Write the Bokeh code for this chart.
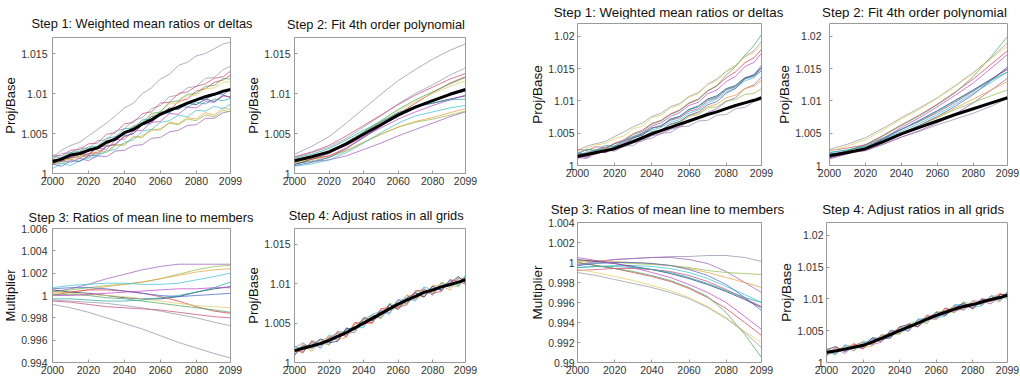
from bokeh.plotting import figure
from bokeh.layouts import row, column
from bokeh.models import FixedTicker, CustomJSTickFormatter, Range1d, ColumnDataSource
from bokeh.core.properties import value
from bokeh.embed import file_html
from bokeh.resources import INLINE

FONT = "Liberation Sans"

# ---------------- data ----------------
years_annual = [2000, 2005, 2010, 2015, 2020, 2025, 2030, 2035, 2040, 2045, 2050,
                2055, 2060, 2065, 2070, 2075, 2080, 2085, 2090, 2095, 2099]
years_fit = [2000, 2010, 2020, 2030, 2040, 2050, 2060, 2070, 2080, 2090, 2099]
x_ticks = [2000, 2020, 2040, 2060, 2080, 2099]
ticks_ratio_left = [1.0, 1.005, 1.01, 1.015]
ticks_mult_left = [0.994, 0.996, 0.998, 1.0, 1.002, 1.004, 1.006]
ticks_ratio_right = [1.0, 1.005, 1.01, 1.015, 1.02]
ticks_mult_right = [0.99, 0.992, 0.994, 0.996, 0.998, 1.0, 1.002, 1.004]

titles = ["Step 1: Weighted mean ratios or deltas", "Step 2: Fit 4th order polynomial",
          "Step 3: Ratios of mean line to members", "Step 4: Adjust ratios in all grids"]

member_colors = ["#9a90b0", "#a060b8", "#90c050", "#e8a040", "#40c0d8", "#203a70", "#d84050",
                 "#9898a8", "#50a860", "#c85078", "#e0d060", "#4868c8", "#c848c8", "#30a8a8"]

# Left case, step 1: weighted mean ratios (members + mean)
left_step1_mean = [1.0015, 1.0018, 1.0023, 1.0025, 1.0029, 1.0032, 1.0039, 1.0043, 1.0051, 1.0055, 1.0062,
                   1.0067, 1.0074, 1.0079, 1.0083, 1.0088, 1.0092, 1.0096, 1.0099, 1.0103, 1.0105]
left_step1_members = [
    [1.0020, 1.0029, 1.0035, 1.0039, 1.0047, 1.0055, 1.0063, 1.0072, 1.0082, 1.0088, 1.0100, 1.0107, 1.0118, 1.0124, 1.0135, 1.0139, 1.0147, 1.0150, 1.0156, 1.0162, 1.0164],
    [1.0011, 1.0016, 1.0014, 1.0019, 1.0016, 1.0022, 1.0021, 1.0028, 1.0029, 1.0035, 1.0036, 1.0044, 1.0045, 1.0052, 1.0054, 1.0060, 1.0061, 1.0069, 1.0069, 1.0076, 1.0078],
    [1.0014, 1.0012, 1.0018, 1.0015, 1.0022, 1.0025, 1.0026, 1.0035, 1.0037, 1.0045, 1.0047, 1.0054, 1.0056, 1.0063, 1.0061, 1.0068, 1.0066, 1.0073, 1.0071, 1.0079, 1.0077],
    [1.0012, 1.0019, 1.0017, 1.0023, 1.0020, 1.0029, 1.0027, 1.0036, 1.0035, 1.0046, 1.0045, 1.0055, 1.0054, 1.0064, 1.0062, 1.0070, 1.0068, 1.0076, 1.0073, 1.0082, 1.0080],
    [1.0006, 1.0013, 1.0010, 1.0016, 1.0019, 1.0022, 1.0028, 1.0030, 1.0039, 1.0042, 1.0053, 1.0055, 1.0064, 1.0066, 1.0073, 1.0071, 1.0079, 1.0078, 1.0084, 1.0081, 1.0087],
    [1.0013, 1.0015, 1.0020, 1.0024, 1.0023, 1.0033, 1.0035, 1.0046, 1.0049, 1.0059, 1.0062, 1.0071, 1.0074, 1.0082, 1.0080, 1.0088, 1.0086, 1.0093, 1.0090, 1.0098, 1.0095],
    [1.0018, 1.0015, 1.0021, 1.0019, 1.0025, 1.0026, 1.0034, 1.0037, 1.0046, 1.0050, 1.0061, 1.0065, 1.0076, 1.0079, 1.0090, 1.0093, 1.0103, 1.0106, 1.0114, 1.0117, 1.0123],
    [1.0018, 1.0025, 1.0026, 1.0032, 1.0031, 1.0041, 1.0042, 1.0053, 1.0056, 1.0066, 1.0070, 1.0081, 1.0085, 1.0096, 1.0098, 1.0107, 1.0109, 1.0119, 1.0120, 1.0130, 1.0134],
    [1.0017, 1.0016, 1.0023, 1.0021, 1.0029, 1.0030, 1.0041, 1.0043, 1.0050, 1.0058, 1.0064, 1.0075, 1.0077, 1.0089, 1.0091, 1.0099, 1.0100, 1.0109, 1.0110, 1.0119, 1.0118],
    [1.0023, 1.0022, 1.0029, 1.0030, 1.0037, 1.0038, 1.0049, 1.0051, 1.0062, 1.0064, 1.0075, 1.0077, 1.0088, 1.0089, 1.0100, 1.0102, 1.0109, 1.0112, 1.0119, 1.0121, 1.0128],
    [1.0010, 1.0017, 1.0018, 1.0023, 1.0024, 1.0034, 1.0035, 1.0045, 1.0048, 1.0059, 1.0062, 1.0073, 1.0076, 1.0087, 1.0088, 1.0097, 1.0098, 1.0106, 1.0107, 1.0114, 1.0115],
    [1.0012, 1.0009, 1.0016, 1.0015, 1.0022, 1.0023, 1.0034, 1.0036, 1.0047, 1.0050, 1.0061, 1.0063, 1.0075, 1.0076, 1.0085, 1.0086, 1.0093, 1.0092, 1.0100, 1.0099, 1.0105],
    [1.0014, 1.0020, 1.0019, 1.0025, 1.0024, 1.0032, 1.0030, 1.0042, 1.0043, 1.0053, 1.0054, 1.0064, 1.0065, 1.0075, 1.0074, 1.0083, 1.0082, 1.0090, 1.0089, 1.0097, 1.0096],
    [1.0021, 1.0020, 1.0026, 1.0028, 1.0033, 1.0034, 1.0044, 1.0046, 1.0056, 1.0057, 1.0067, 1.0068, 1.0077, 1.0076, 1.0084, 1.0083, 1.0089, 1.0087, 1.0093, 1.0091, 1.0094],
]

# Left case, step 2: 4th order polynomial fits
left_step2_mean = [1.0016, 1.0021, 1.0027, 1.0037, 1.0049, 1.0061, 1.0073, 1.0083, 1.0091, 1.0099, 1.0105]
left_step2_members = [
    [1.0024, 1.0034, 1.0046, 1.0063, 1.0081, 1.0099, 1.0116, 1.0130, 1.0143, 1.0154, 1.0162],
    [1.0013, 1.0015, 1.0017, 1.0022, 1.0030, 1.0038, 1.0047, 1.0055, 1.0063, 1.0071, 1.0077],
    [1.0012, 1.0016, 1.0020, 1.0028, 1.0039, 1.0049, 1.0058, 1.0064, 1.0068, 1.0073, 1.0078],
    [1.0014, 1.0018, 1.0022, 1.0029, 1.0039, 1.0049, 1.0058, 1.0065, 1.0070, 1.0076, 1.0081],
    [1.0009, 1.0012, 1.0017, 1.0026, 1.0038, 1.0051, 1.0063, 1.0072, 1.0077, 1.0082, 1.0085],
    [1.0011, 1.0018, 1.0025, 1.0037, 1.0051, 1.0064, 1.0076, 1.0084, 1.0088, 1.0093, 1.0097],
    [1.0016, 1.0018, 1.0022, 1.0032, 1.0045, 1.0059, 1.0074, 1.0088, 1.0101, 1.0113, 1.0121],
    [1.0020, 1.0026, 1.0033, 1.0044, 1.0058, 1.0072, 1.0087, 1.0100, 1.0111, 1.0123, 1.0132],
    [1.0015, 1.0020, 1.0027, 1.0039, 1.0052, 1.0066, 1.0080, 1.0092, 1.0102, 1.0112, 1.0120],
    [1.0021, 1.0027, 1.0035, 1.0047, 1.0060, 1.0073, 1.0086, 1.0098, 1.0108, 1.0118, 1.0125],
    [1.0013, 1.0019, 1.0026, 1.0037, 1.0050, 1.0064, 1.0078, 1.0090, 1.0100, 1.0109, 1.0116],
    [1.0010, 1.0014, 1.0020, 1.0031, 1.0045, 1.0059, 1.0073, 1.0084, 1.0091, 1.0098, 1.0103],
    [1.0016, 1.0021, 1.0026, 1.0035, 1.0046, 1.0057, 1.0068, 1.0077, 1.0085, 1.0092, 1.0098],
    [1.0019, 1.0024, 1.0031, 1.0042, 1.0054, 1.0065, 1.0075, 1.0083, 1.0088, 1.0092, 1.0093],
]

# Left case, step 3: multipliers (mean line / member fit)
left_step3_members = [
    [0.9992, 0.9989, 0.9985, 0.9980, 0.9975, 0.9970, 0.9964, 0.9958, 0.9953, 0.9948, 0.9944],
    [1.0003, 1.0006, 1.0010, 1.0015, 1.0019, 1.0023, 1.0026, 1.0028, 1.0028, 1.0028, 1.0028],
    [1.0004, 1.0005, 1.0007, 1.0009, 1.0010, 1.0012, 1.0015, 1.0019, 1.0023, 1.0026, 1.0027],
    [1.0002, 1.0003, 1.0005, 1.0008, 1.0010, 1.0012, 1.0015, 1.0018, 1.0021, 1.0023, 1.0024],
    [1.0007, 1.0009, 1.0010, 1.0011, 1.0011, 1.0010, 1.0010, 1.0011, 1.0014, 1.0017, 1.0020],
    [1.0005, 1.0003, 1.0002, 1.0000, 0.9998, 0.9997, 0.9997, 0.9999, 1.0003, 1.0006, 1.0008],
    [1.0000, 1.0003, 1.0005, 1.0005, 1.0004, 1.0002, 0.9999, 0.9995, 0.9990, 0.9986, 0.9984],
    [0.9996, 0.9995, 0.9994, 0.9993, 0.9991, 0.9989, 0.9986, 0.9983, 0.9980, 0.9976, 0.9973],
    [1.0001, 1.0001, 1.0000, 0.9998, 0.9997, 0.9995, 0.9993, 0.9991, 0.9989, 0.9987, 0.9985],
    [0.9995, 0.9994, 0.9992, 0.9990, 0.9989, 0.9988, 0.9987, 0.9985, 0.9983, 0.9981, 0.9980],
    [1.0003, 1.0002, 1.0001, 1.0000, 0.9999, 0.9997, 0.9995, 0.9993, 0.9991, 0.9990, 0.9989],
    [1.0006, 1.0007, 1.0007, 1.0006, 1.0004, 1.0002, 1.0000, 0.9999, 1.0000, 1.0001, 1.0002],
    [1.0000, 1.0000, 1.0001, 1.0002, 1.0003, 1.0004, 1.0005, 1.0006, 1.0006, 1.0007, 1.0007],
    [0.9997, 0.9997, 0.9996, 0.9995, 0.9995, 0.9996, 0.9998, 1.0000, 1.0003, 1.0007, 1.0012],
]

# Left case, step 4: adjusted ratios
left_step4_mean = [1.0015, 1.0018, 1.0021, 1.0024, 1.0028, 1.0033, 1.0038, 1.0044, 1.0050, 1.0056, 1.0062,
                   1.0068, 1.0074, 1.0079, 1.0084, 1.0089, 1.0092, 1.0096, 1.0099, 1.0102, 1.0105]
left_step4_members = [
    [1.0010, 1.0024, 1.0018, 1.0029, 1.0022, 1.0037, 1.0033, 1.0050, 1.0046, 1.0061, 1.0056, 1.0073, 1.0071, 1.0085, 1.0079, 1.0093, 1.0086, 1.0101, 1.0095, 1.0108, 1.0102],
    [1.0021, 1.0014, 1.0026, 1.0018, 1.0032, 1.0028, 1.0044, 1.0041, 1.0055, 1.0050, 1.0066, 1.0063, 1.0080, 1.0075, 1.0089, 1.0083, 1.0095, 1.0091, 1.0105, 1.0098, 1.0110],
    [1.0017, 1.0012, 1.0028, 1.0024, 1.0023, 1.0039, 1.0039, 1.0038, 1.0054, 1.0058, 1.0057, 1.0075, 1.0072, 1.0075, 1.0090, 1.0089, 1.0087, 1.0102, 1.0098, 1.0096, 1.0109],
    [1.0012, 1.0022, 1.0014, 1.0027, 1.0033, 1.0029, 1.0032, 1.0049, 1.0052, 1.0049, 1.0068, 1.0067, 1.0069, 1.0086, 1.0081, 1.0085, 1.0098, 1.0097, 1.0092, 1.0106, 1.0107],
    [1.0020, 1.0018, 1.0024, 1.0019, 1.0035, 1.0031, 1.0042, 1.0045, 1.0044, 1.0061, 1.0065, 1.0061, 1.0079, 1.0081, 1.0078, 1.0096, 1.0092, 1.0093, 1.0104, 1.0097, 1.0111],
    [1.0009, 1.0021, 1.0021, 1.0030, 1.0025, 1.0027, 1.0043, 1.0042, 1.0057, 1.0053, 1.0060, 1.0074, 1.0067, 1.0082, 1.0088, 1.0083, 1.0097, 1.0092, 1.0101, 1.0109, 1.0100],
    [1.0015, 1.0013, 1.0027, 1.0022, 1.0031, 1.0038, 1.0033, 1.0051, 1.0049, 1.0051, 1.0068, 1.0070, 1.0070, 1.0073, 1.0091, 1.0092, 1.0088, 1.0090, 1.0105, 1.0103, 1.0099],
    [1.0019, 1.0025, 1.0017, 1.0026, 1.0025, 1.0040, 1.0036, 1.0039, 1.0056, 1.0060, 1.0056, 1.0068, 1.0079, 1.0074, 1.0085, 1.0095, 1.0085, 1.0100, 1.0097, 1.0107, 1.0106],
]

# Right case, step 1
right_step1_mean = [1.0014, 1.0017, 1.0020, 1.0023, 1.0026, 1.0032, 1.0037, 1.0043, 1.0049, 1.0054, 1.0059,
                    1.0064, 1.0069, 1.0074, 1.0079, 1.0083, 1.0088, 1.0093, 1.0097, 1.0101, 1.0105]
right_step1_members = [
    [1.0016, 1.0021, 1.0019, 1.0024, 1.0022, 1.0030, 1.0031, 1.0040, 1.0042, 1.0050, 1.0051, 1.0060, 1.0061, 1.0069, 1.0070, 1.0078, 1.0079, 1.0088, 1.0090, 1.0099, 1.0102],
    [1.0019, 1.0016, 1.0022, 1.0020, 1.0026, 1.0029, 1.0035, 1.0038, 1.0046, 1.0049, 1.0056, 1.0060, 1.0068, 1.0074, 1.0082, 1.0088, 1.0099, 1.0105, 1.0119, 1.0125, 1.0137],
    [1.0011, 1.0018, 1.0017, 1.0024, 1.0029, 1.0030, 1.0040, 1.0044, 1.0053, 1.0054, 1.0064, 1.0066, 1.0076, 1.0079, 1.0089, 1.0091, 1.0100, 1.0102, 1.0110, 1.0112, 1.0119],
    [1.0016, 1.0014, 1.0020, 1.0021, 1.0028, 1.0030, 1.0039, 1.0043, 1.0052, 1.0055, 1.0064, 1.0068, 1.0077, 1.0081, 1.0091, 1.0095, 1.0105, 1.0109, 1.0119, 1.0123, 1.0132],
    [1.0018, 1.0025, 1.0023, 1.0028, 1.0030, 1.0037, 1.0042, 1.0049, 1.0055, 1.0059, 1.0067, 1.0071, 1.0081, 1.0086, 1.0097, 1.0103, 1.0114, 1.0120, 1.0131, 1.0136, 1.0148],
    [1.0014, 1.0013, 1.0021, 1.0020, 1.0030, 1.0032, 1.0043, 1.0047, 1.0058, 1.0061, 1.0072, 1.0076, 1.0087, 1.0092, 1.0103, 1.0108, 1.0119, 1.0124, 1.0136, 1.0140, 1.0152],
    [1.0017, 1.0018, 1.0025, 1.0026, 1.0034, 1.0040, 1.0049, 1.0055, 1.0065, 1.0070, 1.0080, 1.0086, 1.0097, 1.0103, 1.0116, 1.0123, 1.0136, 1.0145, 1.0159, 1.0167, 1.0180],
    [1.0023, 1.0030, 1.0034, 1.0037, 1.0045, 1.0052, 1.0060, 1.0066, 1.0076, 1.0081, 1.0091, 1.0096, 1.0107, 1.0113, 1.0126, 1.0134, 1.0146, 1.0155, 1.0169, 1.0178, 1.0192],
    [1.0013, 1.0020, 1.0024, 1.0025, 1.0034, 1.0038, 1.0048, 1.0053, 1.0064, 1.0069, 1.0079, 1.0085, 1.0096, 1.0102, 1.0115, 1.0124, 1.0140, 1.0153, 1.0171, 1.0186, 1.0203],
    [1.0025, 1.0023, 1.0029, 1.0028, 1.0034, 1.0038, 1.0045, 1.0049, 1.0058, 1.0061, 1.0070, 1.0074, 1.0084, 1.0088, 1.0100, 1.0105, 1.0117, 1.0122, 1.0135, 1.0139, 1.0151],
    [1.0020, 1.0027, 1.0032, 1.0034, 1.0042, 1.0046, 1.0057, 1.0061, 1.0074, 1.0078, 1.0089, 1.0094, 1.0106, 1.0111, 1.0125, 1.0132, 1.0145, 1.0154, 1.0168, 1.0175, 1.0187],
    [1.0020, 1.0017, 1.0022, 1.0023, 1.0028, 1.0032, 1.0039, 1.0044, 1.0052, 1.0055, 1.0064, 1.0068, 1.0078, 1.0083, 1.0094, 1.0099, 1.0112, 1.0119, 1.0134, 1.0141, 1.0155],
    [1.0012, 1.0011, 1.0019, 1.0021, 1.0029, 1.0035, 1.0044, 1.0051, 1.0061, 1.0066, 1.0076, 1.0082, 1.0093, 1.0098, 1.0111, 1.0117, 1.0130, 1.0138, 1.0153, 1.0160, 1.0174],
    [1.0018, 1.0025, 1.0023, 1.0031, 1.0030, 1.0038, 1.0044, 1.0050, 1.0058, 1.0062, 1.0071, 1.0076, 1.0086, 1.0091, 1.0102, 1.0106, 1.0118, 1.0122, 1.0134, 1.0138, 1.0147],
]

# Right case, step 2
right_step2_mean = [1.0015, 1.0020, 1.0026, 1.0037, 1.0049, 1.0059, 1.0069, 1.0079, 1.0088, 1.0097, 1.0105]
right_step2_members = [
    [1.0018, 1.0020, 1.0023, 1.0033, 1.0044, 1.0053, 1.0063, 1.0072, 1.0081, 1.0092, 1.0104],
    [1.0017, 1.0019, 1.0023, 1.0033, 1.0044, 1.0054, 1.0066, 1.0080, 1.0097, 1.0117, 1.0135],
    [1.0013, 1.0019, 1.0026, 1.0038, 1.0051, 1.0062, 1.0074, 1.0087, 1.0098, 1.0108, 1.0117],
    [1.0014, 1.0018, 1.0025, 1.0037, 1.0050, 1.0062, 1.0075, 1.0089, 1.0103, 1.0117, 1.0130],
    [1.0020, 1.0024, 1.0029, 1.0040, 1.0053, 1.0065, 1.0079, 1.0095, 1.0112, 1.0129, 1.0145],
    [1.0012, 1.0019, 1.0027, 1.0041, 1.0056, 1.0070, 1.0085, 1.0101, 1.0117, 1.0134, 1.0150],
    [1.0015, 1.0023, 1.0032, 1.0047, 1.0063, 1.0078, 1.0095, 1.0114, 1.0134, 1.0157, 1.0178],
    [1.0025, 1.0033, 1.0043, 1.0058, 1.0074, 1.0089, 1.0105, 1.0124, 1.0144, 1.0167, 1.0190],
    [1.0015, 1.0023, 1.0032, 1.0046, 1.0062, 1.0077, 1.0094, 1.0113, 1.0138, 1.0169, 1.0200],
    [1.0023, 1.0027, 1.0032, 1.0043, 1.0056, 1.0068, 1.0082, 1.0098, 1.0115, 1.0133, 1.0149],
    [1.0022, 1.0030, 1.0040, 1.0055, 1.0072, 1.0087, 1.0104, 1.0123, 1.0143, 1.0166, 1.0185],
    [1.0018, 1.0021, 1.0026, 1.0037, 1.0050, 1.0062, 1.0076, 1.0092, 1.0110, 1.0132, 1.0153],
    [1.0010, 1.0018, 1.0027, 1.0042, 1.0059, 1.0074, 1.0091, 1.0109, 1.0128, 1.0151, 1.0172],
    [1.0020, 1.0024, 1.0030, 1.0042, 1.0056, 1.0069, 1.0084, 1.0100, 1.0116, 1.0132, 1.0145],
]

# Right case, step 3
right_step3_members = [
    [0.9997, 1.0000, 1.0003, 1.0004, 1.0005, 1.0006, 1.0006, 1.0007, 1.0007, 1.0005, 1.0001],
    [0.9998, 1.0001, 1.0003, 1.0004, 1.0005, 1.0005, 1.0003, 0.9999, 0.9991, 0.9980, 0.9970],
    [1.0002, 1.0001, 1.0000, 0.9999, 0.9998, 0.9997, 0.9995, 0.9992, 0.9990, 0.9989, 0.9988],
    [1.0001, 1.0002, 1.0001, 1.0000, 0.9999, 0.9997, 0.9994, 0.9990, 0.9985, 0.9980, 0.9975],
    [0.9995, 0.9996, 0.9997, 0.9997, 0.9996, 0.9994, 0.9990, 0.9984, 0.9976, 0.9968, 0.9960],
    [1.0003, 1.0001, 0.9999, 0.9996, 0.9993, 0.9989, 0.9984, 0.9978, 0.9971, 0.9963, 0.9955],
    [1.0000, 0.9997, 0.9994, 0.9990, 0.9986, 0.9981, 0.9974, 0.9965, 0.9954, 0.9940, 0.9927],
    [0.9990, 0.9987, 0.9983, 0.9979, 0.9975, 0.9970, 0.9964, 0.9955, 0.9944, 0.9930, 0.9915],
    [1.0000, 0.9997, 0.9994, 0.9991, 0.9987, 0.9982, 0.9975, 0.9966, 0.9950, 0.9928, 0.9905],
    [0.9992, 0.9993, 0.9994, 0.9994, 0.9993, 0.9991, 0.9987, 0.9981, 0.9973, 0.9964, 0.9956],
    [0.9993, 0.9990, 0.9986, 0.9982, 0.9977, 0.9972, 0.9965, 0.9956, 0.9945, 0.9931, 0.9920],
    [0.9997, 0.9999, 1.0000, 1.0000, 0.9999, 0.9997, 0.9993, 0.9987, 0.9978, 0.9965, 0.9952],
    [1.0005, 1.0002, 0.9999, 0.9995, 0.9990, 0.9985, 0.9978, 0.9970, 0.9960, 0.9946, 0.9933],
    [0.9995, 0.9996, 0.9996, 0.9995, 0.9993, 0.9990, 0.9985, 0.9979, 0.9972, 0.9965, 0.9960],
]

# Right case, step 4
right_step4_mean = [1.0016, 1.0018, 1.0021, 1.0024, 1.0027, 1.0032, 1.0038, 1.0044, 1.0050, 1.0056, 1.0062,
                    1.0068, 1.0074, 1.0079, 1.0084, 1.0088, 1.0091, 1.0095, 1.0099, 1.0102, 1.0106]
right_step4_members = [
    [1.0018, 1.0012, 1.0028, 1.0024, 1.0022, 1.0038, 1.0039, 1.0038, 1.0054, 1.0058, 1.0057, 1.0075, 1.0072, 1.0075, 1.0090, 1.0088, 1.0086, 1.0101, 1.0098, 1.0096, 1.0110],
    [1.0013, 1.0022, 1.0014, 1.0027, 1.0032, 1.0028, 1.0032, 1.0049, 1.0052, 1.0049, 1.0068, 1.0067, 1.0069, 1.0086, 1.0081, 1.0084, 1.0097, 1.0096, 1.0092, 1.0106, 1.0108],
    [1.0021, 1.0018, 1.0024, 1.0019, 1.0034, 1.0030, 1.0042, 1.0045, 1.0044, 1.0061, 1.0065, 1.0061, 1.0079, 1.0081, 1.0078, 1.0095, 1.0091, 1.0092, 1.0104, 1.0097, 1.0112],
    [1.0010, 1.0021, 1.0021, 1.0030, 1.0024, 1.0026, 1.0043, 1.0042, 1.0057, 1.0053, 1.0060, 1.0074, 1.0067, 1.0082, 1.0088, 1.0082, 1.0096, 1.0091, 1.0101, 1.0109, 1.0101],
    [1.0016, 1.0013, 1.0027, 1.0022, 1.0030, 1.0037, 1.0033, 1.0051, 1.0049, 1.0051, 1.0068, 1.0070, 1.0070, 1.0073, 1.0091, 1.0091, 1.0087, 1.0089, 1.0105, 1.0103, 1.0100],
    [1.0020, 1.0025, 1.0017, 1.0026, 1.0024, 1.0039, 1.0036, 1.0039, 1.0056, 1.0060, 1.0056, 1.0068, 1.0079, 1.0074, 1.0085, 1.0094, 1.0084, 1.0099, 1.0097, 1.0107, 1.0107],
    [1.0011, 1.0024, 1.0018, 1.0029, 1.0021, 1.0036, 1.0033, 1.0050, 1.0046, 1.0061, 1.0056, 1.0073, 1.0071, 1.0085, 1.0079, 1.0092, 1.0085, 1.0100, 1.0095, 1.0108, 1.0103],
    [1.0022, 1.0014, 1.0026, 1.0018, 1.0031, 1.0027, 1.0044, 1.0041, 1.0055, 1.0050, 1.0066, 1.0063, 1.0080, 1.0075, 1.0089, 1.0082, 1.0094, 1.0090, 1.0105, 1.0098, 1.0111],
]

# ---------------- drawing ----------------
fmt = CustomJSTickFormatter(code="return String(parseFloat(tick.toFixed(4)));")


def panel(ylabel, yrange, yticks, years, members, mean, width, height,
          bl, br, bt, bb, label_size, ylab_standoff):
    p = figure(width=width, height=height, x_range=Range1d(2000, 2099),
               y_range=Range1d(*yrange), output_backend="svg", toolbar_location=None,
               min_border_left=bl, min_border_right=br, min_border_top=bt,
               min_border_bottom=bb)
    p.grid.visible = False
    p.outline_line_color = "#9a9a9a"
    p.outline_line_width = 1
    p.background_fill_color = "white"
    p.border_fill_color = "white"

    p.xaxis.ticker = FixedTicker(ticks=x_ticks)
    p.yaxis.ticker = FixedTicker(ticks=yticks)
    p.yaxis.formatter = fmt
    p.yaxis.axis_label = ylabel
    p.yaxis.axis_label_text_font = FONT
    p.yaxis.axis_label_text_font_size = label_size
    p.yaxis.axis_label_text_font_style = "normal"
    p.yaxis.axis_label_text_color = "#111111"
    p.yaxis.axis_label_standoff = 0
    for ax in (p.xaxis[0], p.yaxis[0]):
        ax.axis_line_color = None
        ax.major_tick_in = 3
        ax.major_tick_out = 0
        ax.minor_tick_line_color = None
        ax.major_tick_line_color = "#9a9a9a"
        ax.major_label_text_font = FONT
        ax.major_label_text_font_size = "10.5px"
        ax.major_label_text_color = "#333333"
    p.xaxis.major_label_standoff = 3
    p.yaxis.major_label_standoff = ylab_standoff

    src = ColumnDataSource(dict(xs=[years] * len(members), ys=members,
                                color=member_colors[:len(members)]))
    p.multi_line(xs="xs", ys="ys", line_color="color", line_width=1, line_alpha=0.75, source=src)
    if mean is not None:
        p.line(years, mean, line_color="black", line_width=3)
    return p


def title_strip(width, height, centers_x, centers_y, texts, size):
    """A blank strip (pixel-unit ranges) that carries the panel titles."""
    s = figure(width=width, height=height, x_range=Range1d(0, width), y_range=Range1d(height, 0),
               output_backend="svg", toolbar_location=None, x_axis_location=None,
               y_axis_location=None, min_border_left=0, min_border_right=0,
               min_border_top=0, min_border_bottom=0, outline_line_color=None)
    s.grid.visible = False
    s.background_fill_color = "white"
    s.border_fill_color = "white"
    s.text(x=centers_x, y=centers_y, text=texts, text_align="center", text_baseline="middle",
           text_font=value(FONT), text_font_size=value(size), text_color="#111111")
    return s


# left case ------------------------------------------------------------
LT1 = title_strip(527, 33, [141.5, 375.5], [23, 24], [titles[0], titles[1]], "12.8px")
L1 = panel("Proj/Base", (1.0, 1.017), ticks_ratio_left, years_annual, left_step1_members,
           left_step1_mean, 243, 165, 52, 13, 4, 25, "13px", 5)
L2 = panel("Proj/Base", (1.0, 1.017), ticks_ratio_left, years_fit, left_step2_members,
           left_step2_mean, 284, 165, 45, 62, 4, 25, "13px", 4)
LT2 = title_strip(527, 26, [140.5, 376], [19, 17], [titles[2], titles[3]], "12.8px")
L3 = panel("Multiplier", (0.994, 1.006), ticks_mult_left, years_fit, left_step3_members,
           None, 243, 155, 52, 13, 4, 17, "13px", 5)
L4 = panel("Proj/Base", (1.0, 1.017), ticks_ratio_left, years_annual, left_step4_members,
           left_step4_mean, 284, 155, 45, 62, 4, 16, "13px", 4)

# right case -----------------------------------------------------------
RT1 = title_strip(493, 19, [141, 387], [12, 12], [titles[0], titles[1]], "13.3px")
R1 = panel("Proj/Base", (1.0, 1.022), ticks_ratio_right, years_annual, right_step1_members,
           right_step1_mean, 247, 171, 48, 13, 4, 25, "13.5px", 3)
R2 = panel("Proj/Base", (1.0, 1.022), ticks_ratio_right, years_fit, right_step2_members,
           right_step2_mean, 246, 171, 52, 13, 4, 25, "13.5px", 8)
RT2 = title_strip(493, 26, [140, 386], [19, 19], [titles[2], titles[3]], "13.3px")
R3 = panel("Multiplier", (0.99, 1.004), ticks_mult_right, years_fit, right_step3_members,
           None, 247, 163, 48, 13, 6, 16, "13.5px", 3)
R4 = panel("Proj/Base", (1.0, 1.022), ticks_ratio_right, years_annual, right_step4_members,
           right_step4_mean, 246, 163, 52, 13, 6, 17, "13.5px", 3)

left_group = column(LT1, row(L1, L2, spacing=0), LT2, row(L3, L4, spacing=0), spacing=0)
right_group = column(RT1, row(R1, R2, spacing=0), RT2, row(R3, R4, spacing=0), spacing=0)
layout = row(left_group, right_group, spacing=0)

html = file_html(layout, INLINE, title="Steps")
html = html.replace("<head>", "<head><style>html,body{margin:0;padding:0;}</style>", 1)
open("out.html", "w").write(html)
